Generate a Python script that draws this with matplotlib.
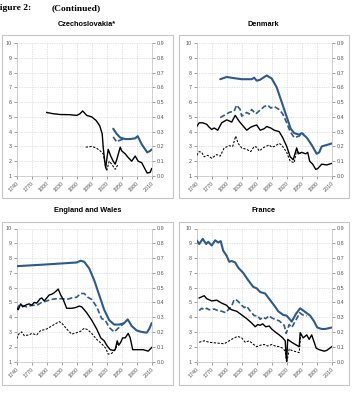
#import necessary libraries
import numpy as np
import matplotlib
matplotlib.use('Agg')
import matplotlib.pyplot as plt
from matplotlib.patches import Rectangle

# ---------------------------------------------------------------
# Data (left axis values, 1..10)

# Czechoslovakia
cz_k_yr = [1800, 1812, 1827, 1845, 1860, 1866, 1872, 1880, 1890, 1899, 1906, 1911, 1913, 1916, 1918,
           1920, 1923, 1928, 1933, 1937, 1940, 1947, 1950, 1957, 1963, 1970, 1977, 1983, 1990, 1997,
           2001, 2007, 2010]
cz_k = [5.3, 5.22, 5.16, 5.15, 5.1, 5.2, 5.4, 5.1, 5.0, 4.75, 4.4, 3.85, 2.95, 2.0, 1.55,
        2.1, 2.8, 2.35, 2.0, 1.8, 2.1, 2.95, 2.7, 2.5, 2.25, 2.0, 2.35, 2.0, 1.9, 1.45,
        1.2, 1.25, 1.5]
cz_kd_yr = [1878, 1890, 1899, 1907, 1913, 1918, 1920, 1925, 1930, 1937, 1942]
cz_kd = [2.95, 3.0, 2.9, 2.7, 2.5, 1.6, 1.35, 2.0, 1.8, 1.45, 1.75]
cz_b_yr = [1933, 1940, 1947, 1957, 1967, 1977, 1982, 1990, 1997, 2001, 2007, 2010]
cz_b = [4.2, 3.85, 3.6, 3.5, 3.5, 3.55, 3.7, 3.15, 2.8, 2.6, 2.7, 2.8]
cz_bd_yr = [1933, 1940, 1945, 1953, 1960]
cz_bd = [3.65, 3.3, 3.4, 3.5, 3.5]

# Denmark
dk_k_yr = [1740, 1745, 1752, 1760, 1765, 1770, 1775, 1782, 1790, 1800, 1810, 1817, 1825, 1830, 1840,
           1848, 1855, 1860, 1867, 1875, 1880, 1888, 1895, 1905, 1912, 1920, 1927, 1933, 1940, 1943,
           1950, 1958, 1962, 1966, 1972, 1978, 1982, 1990, 2000, 2010]
dk_k = [4.35, 4.6, 4.6, 4.5, 4.3, 4.15, 4.25, 4.1, 4.6, 4.8, 4.65, 5.1, 4.7, 4.5, 4.1,
        4.3, 4.4, 4.45, 4.1, 4.2, 4.35, 4.25, 4.1, 4.0, 3.6, 3.0, 2.3, 2.1, 2.9, 2.5,
        2.6, 2.5, 2.6, 2.0, 1.8, 1.45, 1.5, 1.8, 1.75, 1.85]
dk_kd_yr = [1740, 1745, 1750, 1755, 1762, 1770, 1780, 1787, 1795, 1805, 1812, 1818, 1823, 1830, 1840,
            1848, 1855, 1860, 1865, 1875, 1885, 1890, 1895, 1905, 1910, 1920, 1927, 1935, 1940, 1945,
            1950]
dk_kd = [2.4, 2.65, 2.6, 2.3, 2.4, 2.2, 2.45, 2.35, 2.9, 3.05, 3.0, 3.7, 3.2, 2.9, 2.8,
         2.65, 3.0, 2.95, 2.7, 2.95, 3.1, 2.95, 3.0, 3.2, 3.1, 2.6, 2.0, 1.9, 2.8, 2.5,
         2.6]
dk_b_yr = [1787, 1800, 1815, 1830, 1850, 1855, 1860, 1866, 1880, 1890, 1900, 1910, 1920, 1928,
           1935, 1945, 1950, 1960, 1970, 1980, 1985, 1990, 2000, 2010]
dk_b = [7.55, 7.7, 7.62, 7.55, 7.55, 7.65, 7.45, 7.5, 7.8, 7.6, 7.0, 6.0, 5.0, 4.2,
        3.9, 3.8, 3.9, 3.6, 3.1, 2.5, 2.6, 3.0, 3.1, 3.2]
dk_bd_yr = [1787, 1805, 1815, 1820, 1827, 1830, 1840, 1845, 1850, 1858, 1865, 1875, 1882, 1888,
            1895, 1905, 1912, 1920, 1927, 1935, 1945, 1950, 1955]
dk_bd = [4.95, 5.3, 5.4, 5.8, 5.5, 5.05, 5.3, 5.2, 5.5, 5.2, 5.4, 5.7, 5.8, 5.6,
         5.7, 5.5, 5.2, 4.6, 4.0, 3.6, 3.7, 3.9, 3.8]

# England and Wales
ew_k_yr = [1740, 1743, 1748, 1752, 1760, 1765, 1770, 1775, 1780, 1787, 1790, 1795, 1800, 1805, 1810,
           1815, 1820, 1823, 1828, 1833, 1840, 1850, 1858, 1865, 1870, 1880, 1890, 1900, 1908, 1915,
           1920, 1927, 1933, 1937, 1941, 1944, 1948, 1952, 1957, 1963, 1967, 1972, 1979, 1993, 2003,
           2010]
ew_k = [4.6, 4.5, 4.9, 4.7, 4.85, 4.9, 4.8, 5.0, 4.95, 5.25, 5.3, 5.1, 5.3, 5.5, 5.55,
        5.65, 5.8, 5.9, 5.5, 5.2, 4.6, 4.6, 4.65, 4.75, 4.7, 4.3, 3.8, 3.2, 2.6, 2.4,
        2.1, 1.8, 1.75, 1.8, 2.4, 2.1, 2.3, 2.6, 2.6, 2.9, 2.6, 1.8, 1.8, 1.8, 1.7,
        1.95]
ew_kd_yr = [1740, 1745, 1750, 1755, 1765, 1770, 1780, 1788, 1795, 1800, 1810, 1820, 1825, 1830, 1840,
            1850, 1860, 1868, 1875, 1882, 1890, 1900, 1910, 1918, 1923, 1930, 1937, 1942]
ew_kd = [2.55, 2.9, 3.0, 2.75, 2.8, 2.9, 2.8, 3.1, 3.15, 3.2, 3.4, 3.6, 3.7, 3.6, 3.2,
         2.85, 2.95, 3.05, 3.25, 3.15, 2.9, 2.5, 2.2, 1.9, 1.5, 1.55, 1.8, 2.2]
ew_b_yr = [1740, 1800, 1860, 1868, 1875, 1885, 1895, 1905, 1915, 1925, 1935, 1945, 1955, 1962,
           1970, 1980, 1990, 2000, 2005, 2010]
ew_b = [7.45, 7.57, 7.7, 7.82, 7.75, 7.3, 6.5, 5.5, 4.5, 3.8, 3.5, 3.5, 3.6, 3.85,
        3.4, 3.1, 3.0, 2.95, 3.2, 3.6]
ew_bd_yr = [1740, 1745, 1750, 1755, 1760, 1770, 1780, 1790, 1800, 1810, 1820, 1830, 1840, 1850,
            1860, 1868, 1875, 1882, 1890, 1900, 1910, 1917, 1925, 1935, 1943, 1950, 1955]
ew_bd = [4.5, 4.8, 4.8, 4.75, 4.7, 4.8, 4.8, 5.0, 5.1, 5.2, 5.25, 5.25, 5.2, 5.3,
         5.35, 5.6, 5.6, 5.35, 5.2, 4.7, 3.9, 3.8, 3.3, 3.0, 3.25, 3.45, 3.6]

# France
fr_k_yr = [1745, 1755, 1760, 1770, 1780, 1790, 1800, 1805, 1810, 1820, 1830, 1840, 1850, 1857, 1862,
           1867, 1872, 1878, 1885, 1890, 1897, 1905, 1912, 1917, 1919, 1920, 1922, 1930, 1940, 1945,
           1947, 1953, 1960, 1965, 1970, 1979, 1985, 1995, 2000, 2010]
fr_k = [5.3, 5.45, 5.25, 5.1, 5.15, 4.95, 4.8, 4.6, 4.5, 4.4, 4.15, 3.9, 3.6, 3.35, 3.5,
        3.45, 3.55, 3.35, 3.4, 3.2, 3.0, 2.8, 2.6, 2.4, 1.3, 1.1, 2.5, 2.3, 2.1, 2.0,
        2.95, 2.6, 2.8, 2.5, 2.8, 1.9, 1.8, 1.7, 1.75, 2.0]
fr_kd_yr = [1745, 1755, 1765, 1780, 1795, 1805, 1815, 1822, 1830, 1837, 1845, 1852, 1860, 1867, 1875,
            1882, 1890, 1897, 1905, 1912, 1917, 1920, 1925, 1930, 1935, 1945, 1948]
fr_kd = [2.3, 2.4, 2.3, 2.25, 2.2, 2.4, 2.6, 2.7, 2.6, 2.3, 2.4, 2.2, 2.0, 2.1, 2.15,
         2.05, 2.15, 2.05, 2.0, 1.9, 1.7, 0.9, 1.85, 1.75, 1.7, 1.6, 2.8]
fr_b_yr = [1740, 1745, 1752, 1759, 1763, 1770, 1777, 1783, 1788, 1793, 1800, 1805, 1810, 1817, 1823,
           1833, 1843, 1853, 1860, 1867, 1877, 1887, 1897, 1903, 1913, 1920, 1930, 1939, 1947, 1957,
           1967, 1975, 1981, 1990, 1997, 2010]
fr_b = [9.2, 8.95, 9.3, 8.95, 9.1, 8.85, 9.2, 9.05, 9.15, 8.5, 8.15, 7.75, 7.8, 7.7, 7.35,
        7.0, 6.5, 6.05, 5.95, 5.7, 5.6, 5.15, 4.7, 4.4, 4.15, 4.1, 3.7, 4.25, 4.6, 4.35,
        4.1, 3.7, 3.3, 3.2, 3.2, 3.3]
fr_bd_yr = [1745, 1750, 1755, 1760, 1765, 1775, 1782, 1790, 1798, 1803, 1810, 1815, 1820, 1825, 1830,
            1835, 1840, 1845, 1850, 1855, 1862, 1867, 1872, 1878, 1885, 1890, 1897, 1905, 1910, 1915,
            1919, 1925, 1930, 1935, 1940, 1946, 1950, 1955, 1960]
fr_bd = [4.45, 4.6, 4.5, 4.6, 4.5, 4.55, 4.45, 4.4, 4.3, 4.5, 4.75, 5.2, 5.15, 5.0, 4.8,
         4.65, 4.75, 4.5, 4.3, 4.1, 4.1, 3.85, 4.0, 3.9, 4.1, 3.95, 3.85, 3.75, 3.6, 3.45,
         2.9, 3.5, 3.3, 3.6, 3.9, 4.3, 4.2, 4.1, 4.1]

titles = ['Czechoslovakia*', 'Denmark', 'England and Wales', 'France']
xticks = [1740, 1770, 1800, 1830, 1860, 1890, 1920, 1950, 1980, 2010]

# ---------------------------------------------------------------
W, H = 353, 398
fig = plt.figure(figsize=(W / 100, H / 100), dpi=100)
plt.rcParams['font.family'] = 'Liberation Sans'

blue = '#2d5a8c'
grey_txt = '#555555'

# figure heading (the F is cut off by the page edge in the original)
fig.text(-6 / W, 1 - 8 / H, 'Figure 2:', fontsize=6.8, fontweight='bold',
         family='Liberation Serif', va='center', ha='left')
fig.text(52 / W, 1 - 8 / H, '(Continued)', fontsize=6.8, fontweight='bold',
         family='Liberation Serif', va='center', ha='left')

# panel positions in pixels: axes left, top and the outer box
panels = [
    (16.7, 43, 2, 35, titles[0], (cz_k_yr, cz_k), (cz_kd_yr, cz_kd), (cz_b_yr, cz_b), (cz_bd_yr, cz_bd)),
    (196.7, 43, 178.5, 35, titles[1], (dk_k_yr, dk_k), (dk_kd_yr, dk_kd), (dk_b_yr, dk_b), (dk_bd_yr, dk_bd)),
    (16.7, 228.5, 2, 222, titles[2], (ew_k_yr, ew_k), (ew_kd_yr, ew_kd), (ew_b_yr, ew_b), (ew_bd_yr, ew_bd)),
    (196.7, 228.5, 178.5, 222, titles[3], (fr_k_yr, fr_k), (fr_kd_yr, fr_kd), (fr_b_yr, fr_b), (fr_bd_yr, fr_bd)),
]
ax_w, ax_h = 135, 133
box_w, box_h = 170.5, 163

for left, top, bx, by, title, k, kd, b, bd in panels:
    # grey frame round each chart
    fig.patches.append(Rectangle((bx / W, 1 - (by + box_h) / H), box_w / W, box_h / H,
                                 transform=fig.transFigure, fill=False,
                                 edgecolor='#c4c4c4', linewidth=0.8))
    fig.text((bx + box_w / 2) / W, 1 - (top - 18) / H, title, fontsize=5.3,
             fontweight='bold', ha='center', va='center')

    ax = fig.add_axes([left / W, 1 - (top + ax_h) / H, ax_w / W, ax_h / H])
    ax.plot(b[0], b[1], color=blue, lw=1.5, solid_capstyle='round', zorder=3)
    ax.plot(bd[0], bd[1], color=blue, lw=1.2, dashes=(3.2, 1.5), zorder=3)
    ax.plot(k[0], k[1], color='black', lw=1.0, zorder=4)
    ax.plot(kd[0], kd[1], color='black', lw=0.75, dashes=(2.2, 1.4), zorder=4)

    ax.set_xlim(1740, 2010)
    ax.set_ylim(1, 10)
    ax.set_xticks(xticks)
    ax.set_xticklabels([str(t) for t in xticks], rotation=45, ha='right',
                       rotation_mode='anchor')
    ax.set_yticks(range(1, 11))
    ax.grid(True, color='#c8c8c8', linestyle=(0, (1, 1.5)), linewidth=0.5)
    ax.tick_params(labelsize=3.9, colors=grey_txt, length=2, width=0.4, pad=1.5)
    for s in ['top', 'right']:
        ax.spines[s].set_visible(False)
    for s in ['left', 'bottom']:
        ax.spines[s].set_color('#bdbdbd')
        ax.spines[s].set_linewidth(0.5)

    # right hand scale 0.0 - 0.9
    ax2 = ax.twinx()
    ax2.set_ylim(0, 0.9)
    ax2.set_yticks(np.arange(0, 0.91, 0.1))
    ax2.set_yticklabels(['%.1f' % v for v in np.arange(0, 0.91, 0.1)])
    ax2.tick_params(labelsize=3.9, colors=grey_txt, length=2, width=0.4, pad=1.5)
    for s in ['top', 'left', 'bottom']:
        ax2.spines[s].set_visible(False)
    ax2.spines['right'].set_color('#bdbdbd')
    ax2.spines['right'].set_linewidth(0.5)

plt.savefig('out.png', dpi=100)
